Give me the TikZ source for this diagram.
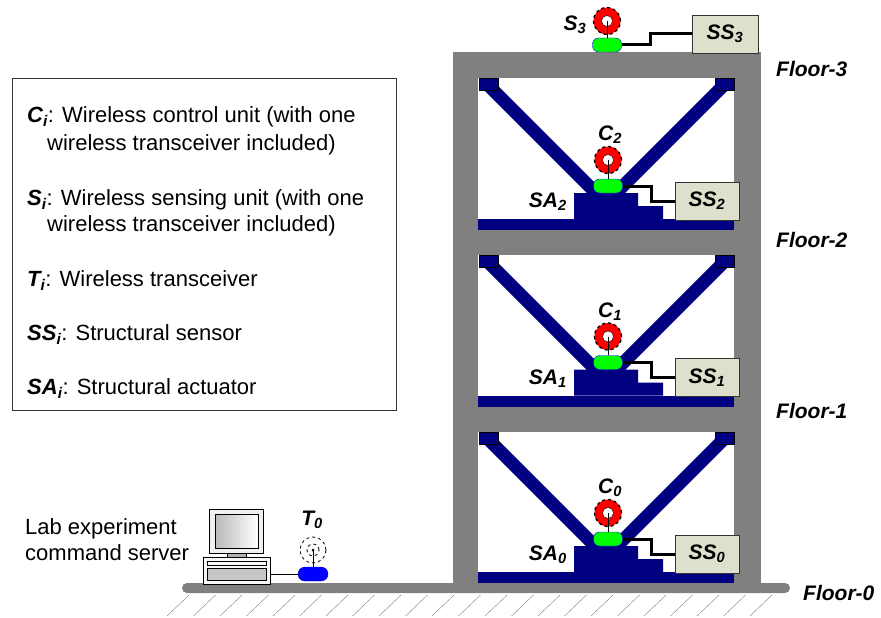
\documentclass[tikz,border=0pt]{standalone}
\usepackage{fontspec}
\setmainfont{Liberation Sans}
\usetikzlibrary{positioning, calc}

\definecolor{framegray}{RGB}{128,128,128}
\definecolor{navy}{RGB}{0,0,128}
\definecolor{boxbeige}{RGB}{221,224,204}
\definecolor{unitgreen}{RGB}{0,255,0}

\newcommand{\sym}[2]{\textbf{\textit{#1\textsubscript{#2}}}}

\begin{document}
\begin{tikzpicture}[x=1pt, y=-1pt]
		\tikzstyle{unit} = [rectangle, rounded corners=6pt, draw=blue, fill=unitgreen, minimum width=29pt, minimum height=14pt, inner sep=0]
		\tikzstyle{tx} = [unit, rounded corners=7pt, fill=blue, draw=blue!70!black, minimum width=30pt]
		\tikzstyle{antenna} = [circle, draw=black, dashed, line width=1.3pt, fill=red, minimum size=27pt, inner sep=0]
		\tikzstyle{hole} = [circle, draw=black, fill=white, minimum size=11pt, inner sep=0]
		\tikzstyle{sensor} = [rectangle, draw=black!80, fill=boxbeige, minimum width=64pt, minimum height=38pt, inner sep=0, font=\fontsize{21}{21}\selectfont\bfseries\itshape]
		\tikzstyle{tag} = [inner sep=0, font=\fontsize{21}{21}\selectfont\bfseries\itshape]
		\tikzstyle{legend} = [anchor=base west, inner sep=0, font=\fontsize{22}{22}\selectfont]
		\tikzstyle{wire} = [line width=3pt, black]
		\tikzstyle{brace} = [line width=13pt, navy]

		\useasboundingbox (0,0) rectangle (881,618);

		% Ground
		\fill[framegray, rounded corners=5pt] (182,583) rectangle (790,593);
		\foreach \k in {0,...,22} {
				\draw[framegray, thin] ({189+26.5*\k},595) -- ++(-22,21);
			};

		% Frame
		\fill[framegray] (453,52) rectangle (761,593);

		% Stories
		\foreach \i/\t/\b in {0/432/572, 1/255/395.5, 2/78/219} {
				\fill[white] (478,\t) rectangle (734,\b);
				\fill[navy] (478,\b) rectangle (734,\b+11);
				\draw[brace] (489,\t+8) -- (607,\t+126);
				\draw[brace] (723,\t+8) -- (605,\t+126);
				\filldraw[fill=navy, draw=black, thin] (479,\t) rectangle (498,\t+12);
				\filldraw[fill=navy, draw=black, thin] (715,\t) rectangle (734,\t+12);
				\fill[navy] (574,\b-26) -- (638,\b-26) -- (638,\b-13) -- (663,\b-13) -- (663,\b) -- (574,\b) -- cycle;
				\node[tag, anchor=east] (sa_\i) at (567,\b-17) {SA\textsubscript{\i}};

				\node[unit] (c_\i) at (608,\b-33) {};
				\node[antenna] (ant_\i) at (608,\b-59) {};
				\node[hole] at (ant_\i) {};
				\draw[thick] (ant_\i.center) -- (c_\i.north);
				\node[tag] (clbl_\i) at (610,\b-84) {C\textsubscript{\i}};

				\node[sensor] (ss_\i) at (707,\b-18) {SS\textsubscript{\i}};
				\draw[wire] (c_\i.east) -- ++(29,0) |- (ss_\i.west);
			};

		% Sensing unit on the roof
		\node[unit] (s_3) at (607,45) {};
		\node[antenna] (ant_s) at (607,21) {};
		\node[hole] at (ant_s) {};
		\draw[thick] (ant_s.center) -- (s_3.north);
		\node[tag] (slbl_3) at (575,25) {S\textsubscript{3}};
		\node[sensor, minimum width=66pt] (ss_3) at (725,34) {SS\textsubscript{3}};
		\draw[wire] (s_3.east) -- ++(29,0) |- (ss_3.west);

		% Floor names
		\node[tag, anchor=base west] (floor_3) at (776,77) {Floor-3};
		\node[tag, anchor=base west] (floor_2) at (776,247) {Floor-2};
		\node[tag, anchor=base west] (floor_1) at (776,418) {Floor-1};
		\node[tag, anchor=base west] (floor_0) at (803,600) {Floor-0};

		% Legend
		\draw[black!80] (12,78) rectangle (396,410);
		\node[legend] (leg_c) at (27,122.7) {\sym{C}{i}: Wireless control unit (with one};
		\node[legend] (leg_c2) at (47,150) {wireless transceiver included)};
		\node[legend] (leg_s) at (27,205) {\sym{S}{i}: Wireless sensing unit (with one};
		\node[legend] (leg_s2) at (47,231.7) {wireless transceiver included)};
		\node[legend] (leg_t) at (27,286.7) {\sym{T}{i}: Wireless transceiver};
		\node[legend] (leg_ss) at (27,340.7) {\sym{SS}{i}: Structural sensor};
		\node[legend] (leg_sa) at (27,394) {\sym{SA}{i}: Structural actuator};

		% Command server
		\node[legend] (lab_1) at (25,534) {Lab experiment};
		\node[legend] (lab_2) at (25,560) {command server};
		\filldraw[fill=gray!12, draw=black] (209,509) rectangle (263,553);
		\shade[left color=gray!55, right color=white, draw=black] (215,514) rectangle (258,548);
		\filldraw[fill=gray!60, draw=black] (227,553) rectangle (246,558);
		\node[rectangle, draw=black, fill=gray!6, minimum width=67pt, minimum height=27pt, inner sep=0] (pc) at (236.5,570.5) {};
		\draw (207,561) rectangle (266,565);
		\filldraw[fill=gray!45, draw=black] (207,568) rectangle (266,580);

		% Transceiver
		\node[tx] (t_0) at (313,574) {};
		\node[circle, draw=black, dashed, thick, minimum size=26pt, inner sep=0] (ant_t) at (313,550) {};
		\node[circle, draw=black, dashed, thick, minimum size=12pt, inner sep=0] at (ant_t) {};
		\fill (ant_t.center) circle (1.5pt);
		\draw[thick] (ant_t.center) -- (t_0.north);
		\node[tag] (tlbl_0) at (312,520) {T\textsubscript{0}};
		\draw[thick] (t_0.west) -- (t_0.west -| pc.east);

	\end{tikzpicture}
\end{document}
